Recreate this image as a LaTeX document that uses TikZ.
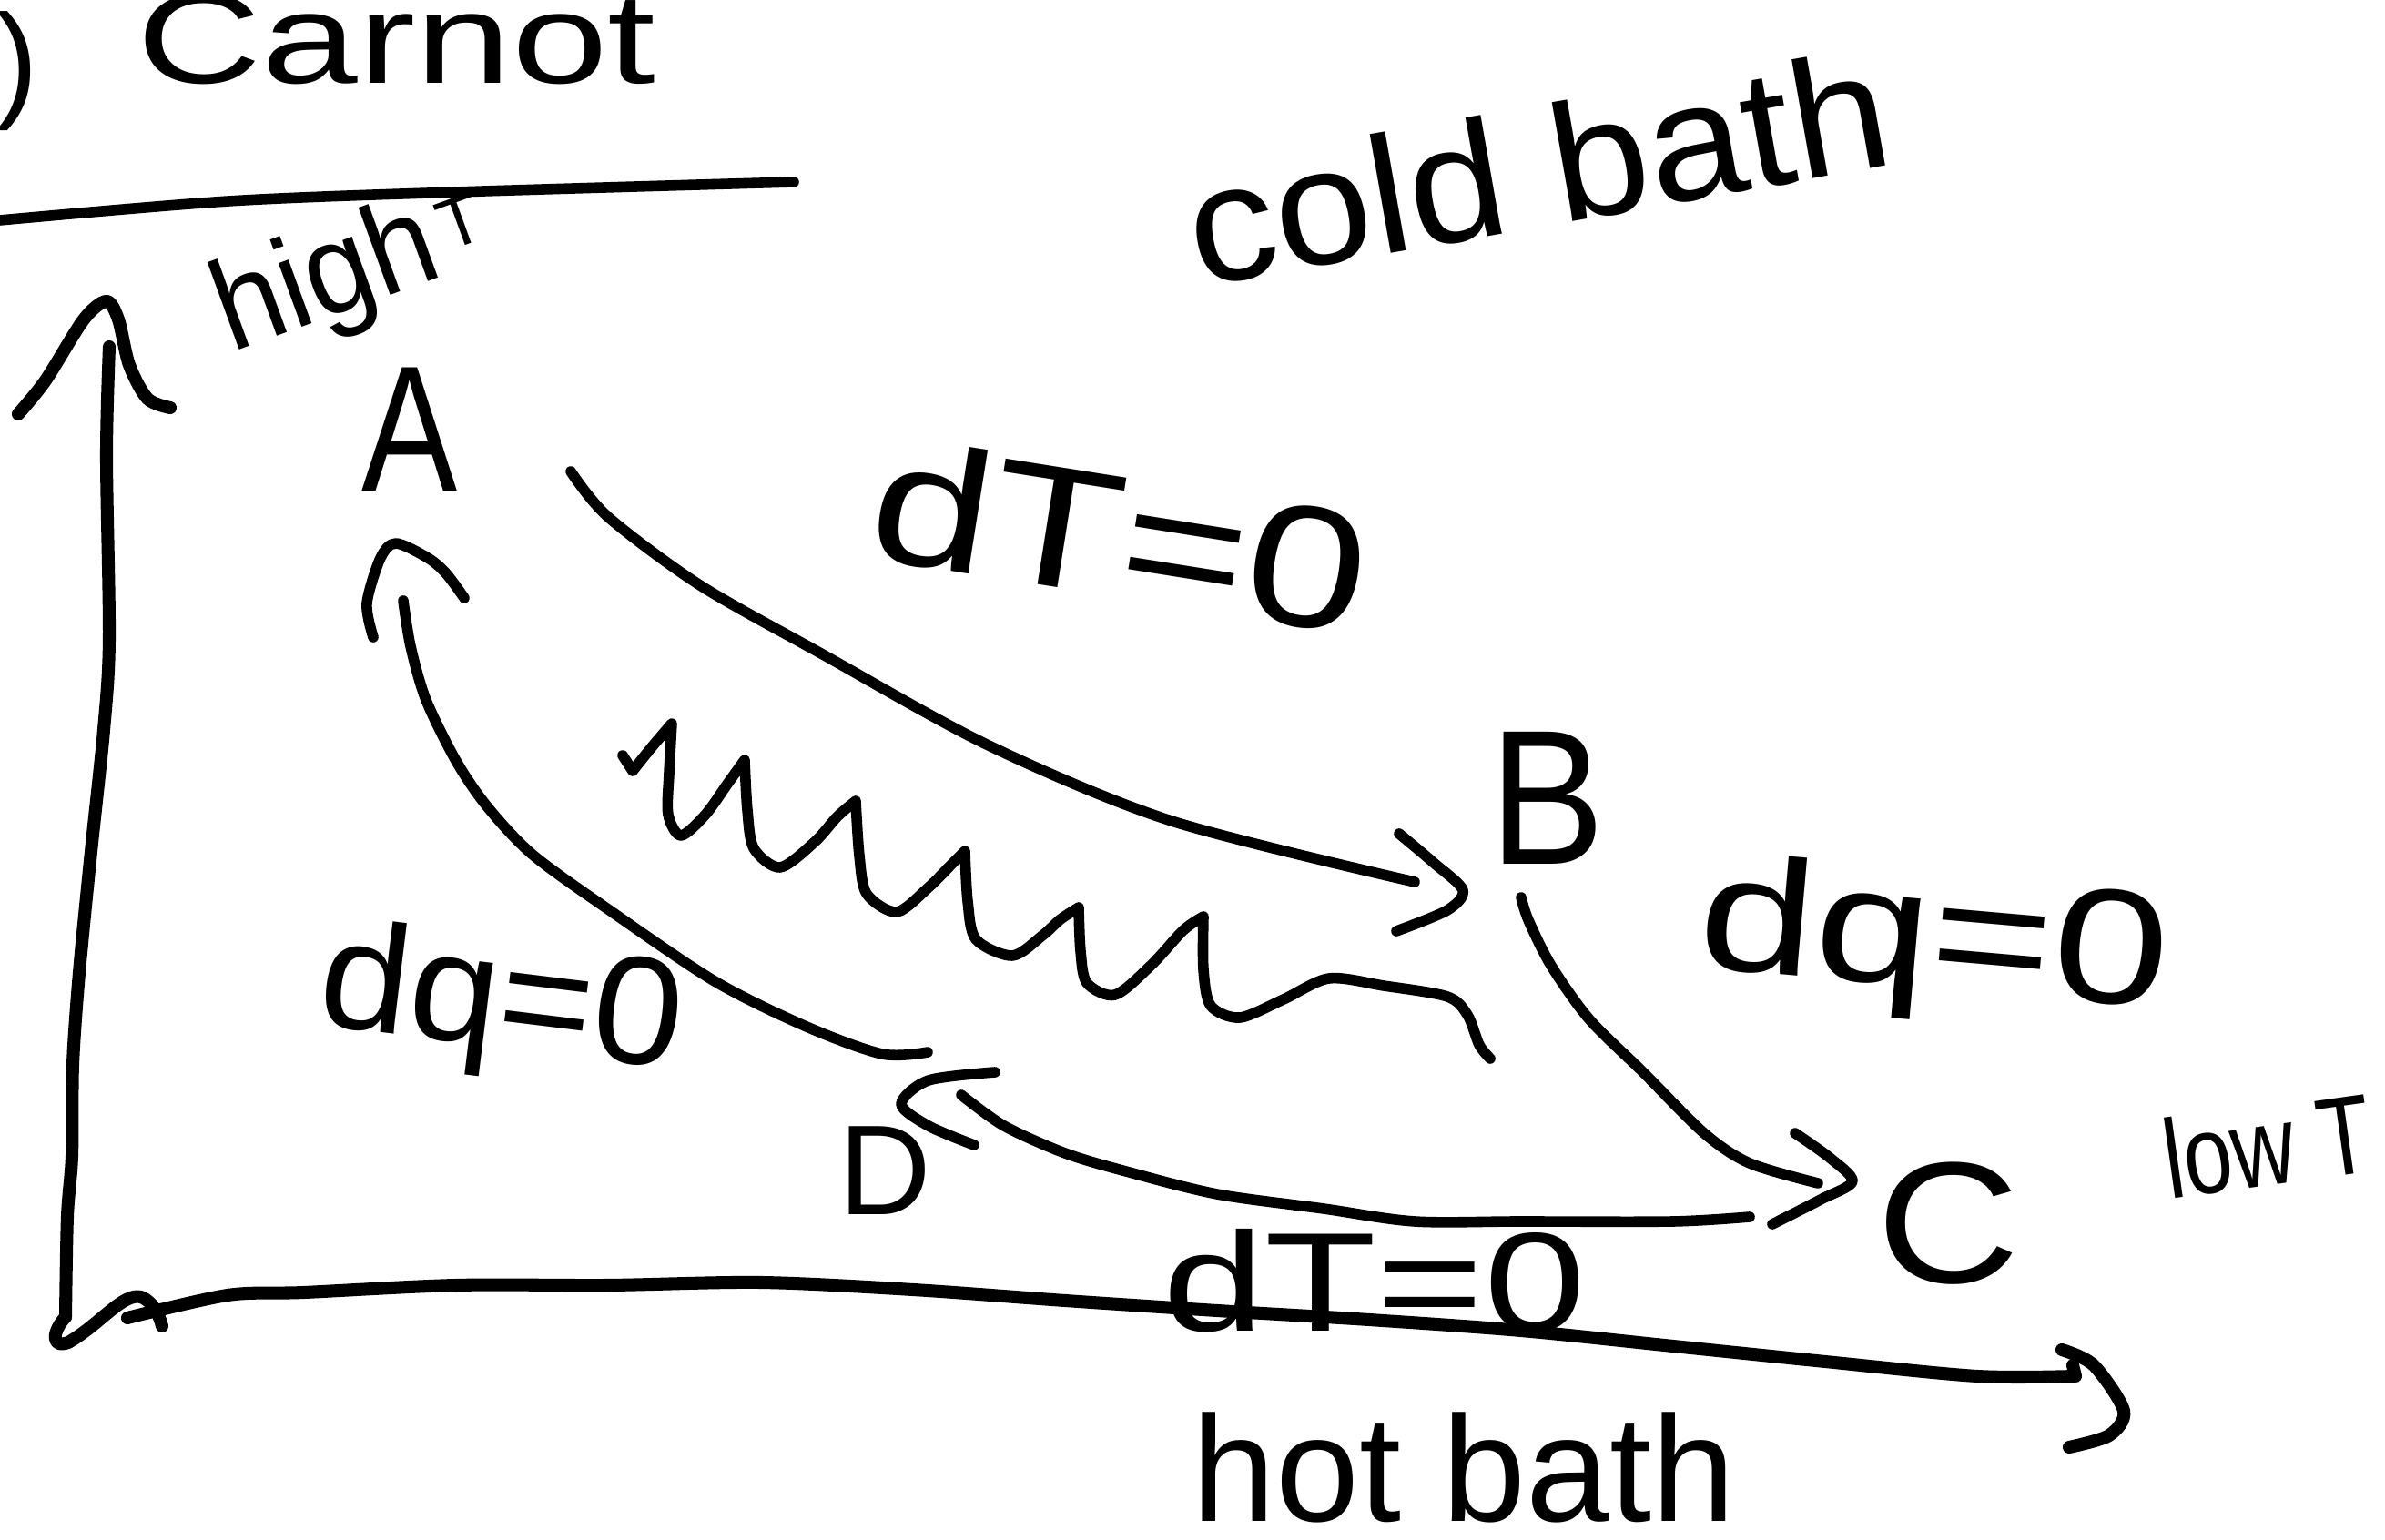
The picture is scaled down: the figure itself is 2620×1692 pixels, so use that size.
\documentclass[tikz,border=0pt]{standalone}
\usepackage{fontspec}
\setmainfont{Liberation Sans}
\usepackage{graphicx}
\newcommand\htext[3]{\scalebox{#1}[1]{\fontsize{#2}{#2}\selectfont #3}}
\tikzset{
  stroke/.style={line width=3.3pt, line cap=round, line join=round},
  axisline/.style={line width=4pt, line cap=round, line join=round},
  hand/.style={inner sep=0pt, anchor=base},
}
\begin{document}
\begin{tikzpicture}[x=0.01cm, y=-0.01cm]
\useasboundingbox (0,0) rectangle (2620,1692);
\fill[white] (0,0) rectangle (2620,1692);
\clip (0,0) rectangle (2620,1692);

% ---------- texts ----------
\node[hand, anchor=base west] (paren) at (-5,115) {\htext{1}{40}{)}};
\node[hand, anchor=base west] (carnot) at (150,92) {\htext{1.35}{40}{Carnot}};
\node[hand, rotate=20] (high) at (372,345) {\htext{0.94}{40}{high}};
\node[hand, rotate=20] (hiT) at (515,268) {\htext{1}{22}{T}};
\node[hand, rotate=10] (cold) at (1700,248) {\htext{1.05}{52}{cold bath}};
\node[hand] (A) at (450,540) {\htext{0.8}{56}{A}};
\node[hand] (B) at (1700,950) {\htext{0.9}{60}{B}};
\node[hand] (C) at (2140,1410) {\htext{1.15}{54}{C}};
\node[hand] (D) at (972,1335) {\htext{1}{40}{D}};
\node[hand, rotate=-9] (dTtop) at (1220,655) {\htext{1.25}{54}{dT=0}};
\node[hand, rotate=-5] (dqright) at (2120,1085) {\htext{1.28}{51}{dq=0}};
\node[hand, rotate=-7] (dqleft) at (545,1150) {\htext{1.05}{48}{dq=0}};
\node[hand] (dTbot) at (1510,1462) {\htext{1.3}{44}{dT=0}};
\node[hand] (hot) at (1608,1672) {\htext{1}{47}{hot bath}};
\node[hand, rotate=8] (low) at (2497,1302) {\htext{0.78}{35}{low T}};

% ---------- top line ----------
\coordinate (tl0) at (0,242);
\coordinate (tl1) at (872,200);
\draw[stroke] plot[smooth] coordinates {(tl0) (251,221) (501,211) (tl1)};

% ---------- axes ----------
\coordinate (ytop) at (120,381);
\coordinate (ybot) at (72,1447);
\draw[axisline] plot[smooth] coordinates {(ytop) (117,501) (120,702) (114,802) (100,936) (87,1069) (80,1170) (79,1270) (74,1337) (ybot)};
\draw[axisline] plot[smooth] coordinates {(20,455) (50,418) (92,351) (117,331) (130,351) (142,401) (162,438) (187,448)};
\draw[axisline] (ybot) .. controls (58,1462) and (55,1482) .. (75,1475)
   .. controls (110,1455) and (135,1420) .. (155,1425)
   .. controls (168,1430) and (175,1445) .. (178,1457);
\coordinate (xstart) at (140,1448);
\coordinate (xend) at (2280,1512);
\draw[axisline] plot[smooth] coordinates {(xstart) (250,1423) (334,1420) (501,1412) (668,1412) (836,1409) (1003,1417) (1170,1429) (1337,1440) (1504,1450) (1671,1462) (1838,1479) (2005,1496) (2172,1512) (xend)}
   -- (2277,1500);
\draw[axisline] plot[smooth] coordinates {(2265,1483) (2300,1500) (2333,1550) (2317,1577) (2273,1590)};

% ---------- A -> B (isotherm) ----------
\coordinate (ab0) at (627,518);
\coordinate (ab1) at (1554,969);
\draw[stroke] plot[smooth] coordinates {(ab0) (668,568) (769,643) (902,718) (1086,819) (1287,902) (ab1)};
\draw[stroke] plot[smooth] coordinates {(1537,916) (1575,948) (1607,978) (1590,1000) (1534,1023)};

% ---------- B -> C (adiabat) ----------
\coordinate (bc0) at (1671,986);
\coordinate (bc1) at (1997,1300);
\draw[stroke] plot[smooth] coordinates {(bc0) (1679,1011) (1704,1061) (1746,1120) (1805,1178) (1872,1245) (1922,1278) (bc1)};
\draw[stroke] plot[smooth] coordinates {(1972,1245) (2010,1272) (2035,1298) (2000,1318) (1947,1345)};

% ---------- C -> D (isotherm) ----------
\coordinate (cd0) at (1922,1337);
\coordinate (cd1) at (1056,1203);
\draw[stroke] plot[smooth] coordinates {(cd0) (1838,1342) (1671,1342) (1554,1342) (1454,1328) (1337,1312) (1237,1287) (1170,1267) (1103,1237) (cd1)};
\draw[stroke] plot[smooth] coordinates {(1093,1178) (1020,1187) (990,1213) (1020,1237) (1070,1258)};

% ---------- D -> A (adiabat) ----------
\coordinate (da0) at (1019,1156);
\coordinate (da1) at (443,660);
\draw[stroke] plot[smooth] coordinates {(da0) (969,1158) (886,1128) (785,1078) (668,999) (585,939) (535,886) (501,836) (468,769) (451,710) (da1)};
\draw[stroke] plot[smooth] coordinates {(410,700) (403,663) (418,613) (435,597) (470,613) (490,630) (510,657)};

% ---------- wavy heat line ----------
\draw[stroke] (684,830) -- (695,847)
  -- plot[smooth] coordinates {(695,847) (715,822) (738,795)}
  -- plot[smooth] coordinates {(738,795) (735,850) (734,895) (748,918) (775,895) (800,860) (818,835)}
  -- plot[smooth] coordinates {(818,835) (821,890) (828,932) (857,953) (895,925) (920,897) (940,880)}
  -- plot[smooth] coordinates {(940,880) (944,940) (952,982) (985,1002) (1020,975) (1045,950) (1060,935)}
  -- plot[smooth] coordinates {(1060,935) (1063,990) (1072,1032) (1112,1050) (1145,1028) (1165,1010) (1185,997)}
  -- plot[smooth] coordinates {(1185,997) (1187,1045) (1194,1080) (1225,1093) (1265,1060) (1300,1022) (1322,1007)}
  -- plot[smooth] coordinates {(1322,1007) (1322,1065) (1330,1105) (1362,1118) (1410,1098) (1460,1075) (1520,1083) (1590,1095) (1612,1115) (1625,1148) (1637,1163)};
\end{tikzpicture}
\end{document}
